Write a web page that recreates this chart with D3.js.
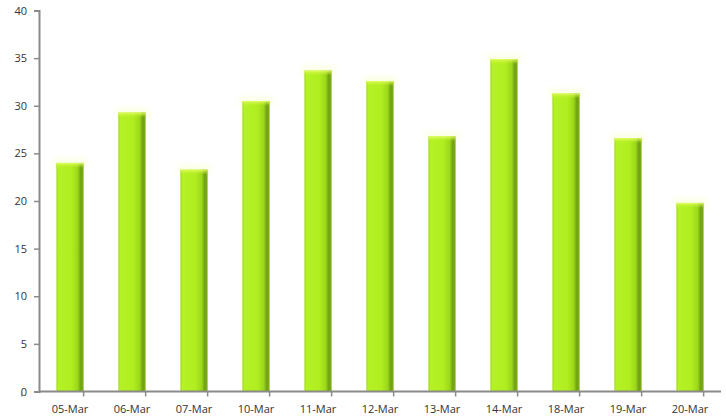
<!DOCTYPE html>
<html>
<head>
<meta charset="utf-8">
<script src="https://cdn.jsdelivr.net/npm/d3@7"></script>
<style>
  html, body { margin: 0; padding: 0; background: #fff; }
  svg { display: block; }
  .tick text { font-family: "Open Sans", sans-serif; font-size: 11px; fill: #333; }
</style>
</head>
<body>
<svg id="chart" width="726" height="416"></svg>
<script>
// Daily values by date
const categories = ["05-Mar", "06-Mar", "07-Mar", "10-Mar", "11-Mar", "12-Mar", "13-Mar", "14-Mar", "18-Mar", "19-Mar", "20-Mar"];
const values = [24, 29.3, 23.3, 30.5, 33.7, 32.6, 26.8, 34.9, 31.3, 26.6, 19.8];
const yTicks = [0, 5, 10, 15, 20, 25, 30, 35, 40];

const svg = d3.select("#chart");
const margin = { left: 39, right: 5, top: 10.5, bottom: 24.5 };
const W = 726, H = 416;

const x = d3.scaleBand()
  .domain(categories)
  .range([margin.left, W - margin.right])
  .paddingInner(0.56)
  .paddingOuter(0.28);

const y = d3.scaleLinear()
  .domain([0, 40])
  .range([H - margin.bottom, margin.top]);

// Horizontal gradient: bright lime body with a darker strip near the right edge
const defs = svg.append("defs");
const grad = defs.append("linearGradient").attr("id", "barGrad")
  .attr("x1", "0%").attr("x2", "100%").attr("y1", "0%").attr("y2", "0%");
[["0%", "#a2dc1c"], ["8%", "#b4f226"], ["55%", "#b0ee20"], ["78%", "#9cd81a"], ["90%", "#6e9e14"], ["100%", "#86b41c"]]
  .forEach(([o, c]) => grad.append("stop").attr("offset", o).attr("stop-color", c));

const capGrad = defs.append("linearGradient").attr("id", "capGrad")
  .attr("x1", "0%").attr("x2", "0%").attr("y1", "0%").attr("y2", "100%");
capGrad.append("stop").attr("offset", "0%").attr("stop-color", "#e8ff70").attr("stop-opacity", 0.9);
capGrad.append("stop").attr("offset", "100%").attr("stop-color", "#c4f028").attr("stop-opacity", 0);

const glow = defs.append("filter").attr("id", "glow")
  .attr("x", "-50%").attr("y", "-50%").attr("width", "200%").attr("height", "200%");
glow.append("feGaussianBlur").attr("stdDeviation", 3);

// Soft glow above each bar top
svg.append("g").selectAll("rect")
  .data(categories)
  .join("rect")
  .attr("x", (d) => x(d) - 3)
  .attr("y", (d, i) => y(values[i]) - 4)
  .attr("width", x.bandwidth() + 6)
  .attr("height", 8)
  .attr("fill", "#f6ffc0")
  .attr("opacity", 0.5)
  .attr("filter", "url(#glow)");

// Bars
const bars = svg.append("g");
bars.selectAll("rect.bar")
  .data(categories)
  .join("rect")
  .attr("class", "bar")
  .attr("x", (d) => x(d))
  .attr("y", (d, i) => y(values[i]))
  .attr("width", x.bandwidth())
  .attr("height", (d, i) => y(0) - y(values[i]))
  .attr("fill", "url(#barGrad)");

bars.selectAll("rect.cap")
  .data(categories)
  .join("rect")
  .attr("class", "cap")
  .attr("x", (d) => x(d))
  .attr("y", (d, i) => y(values[i]))
  .attr("width", x.bandwidth())
  .attr("height", 5)
  .attr("fill", "url(#capGrad)");

// Y axis
const yAxis = svg.append("g")
  .attr("transform", `translate(${margin.left},0)`)
  .call(d3.axisLeft(y).tickValues(yTicks).tickSize(5).tickPadding(7));
yAxis.select(".domain").attr("stroke", "#8a8a8a").attr("stroke-width", 2);
yAxis.selectAll(".tick line").attr("stroke", "#8a8a8a").attr("stroke-width", 1.5);

// X axis with ticks at band boundaries
const xAxisG = svg.append("g").attr("transform", `translate(0,${y(0)})`);
xAxisG.append("line")
  .attr("x1", margin.left).attr("x2", W - margin.right)
  .attr("y1", 0).attr("y2", 0)
  .attr("stroke", "#8a8a8a").attr("stroke-width", 2);
const step = x.step();
const bounds = d3.range(categories.length + 1).map((i) => x(categories[0]) - x.paddingOuter() * step - (x.paddingInner() * step) / 2 + i * step);
xAxisG.selectAll("line.tk")
  .data(bounds)
  .join("line")
  .attr("class", "tk")
  .attr("x1", (d) => d).attr("x2", (d) => d)
  .attr("y1", 0).attr("y2", 5)
  .attr("stroke", "#8a8a8a").attr("stroke-width", 1.5);
xAxisG.selectAll("text")
  .data(categories)
  .join("text")
  .attr("x", (d) => x(d) + x.bandwidth() / 2)
  .attr("y", 21)
  .attr("text-anchor", "middle")
  .attr("font-family", "Open Sans, sans-serif")
  .attr("font-size", 11)
  .attr("fill", "#333")
  .text((d) => d);
</script>
</body>
</html>
